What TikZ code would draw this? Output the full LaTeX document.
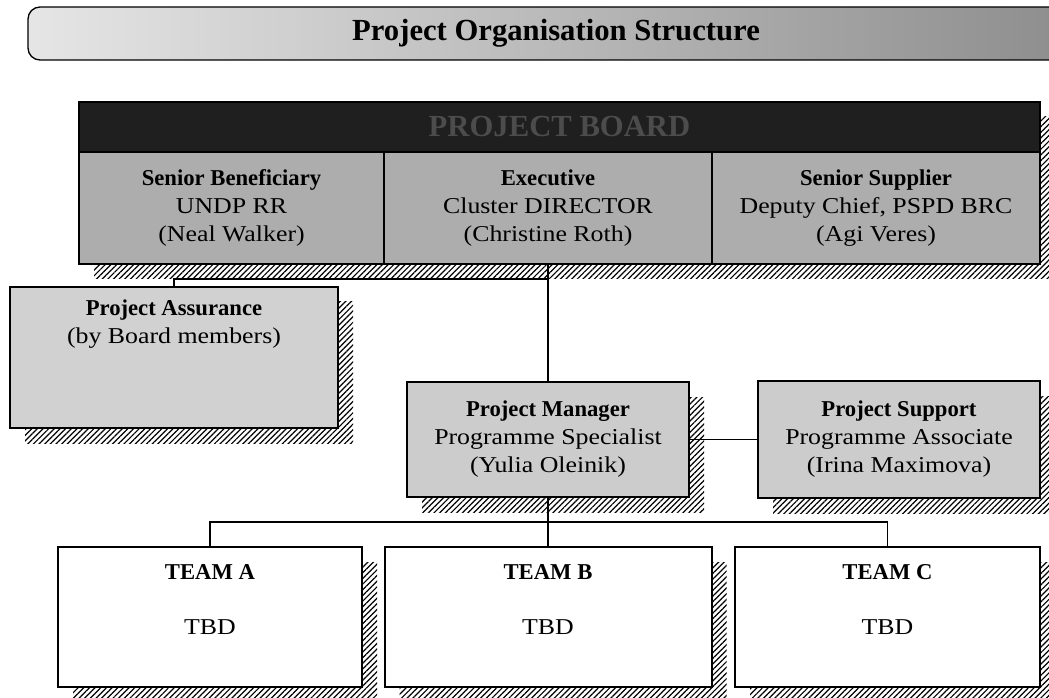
\documentclass[tikz,border=0pt]{standalone}
\usepackage{fontspec}
\setmainfont{Liberation Serif}[UprightFeatures={FakeStretch=1.14}]
\usetikzlibrary{calc,patterns.meta}

\begin{document}
\begin{tikzpicture}[x=0.75pt, y=-0.75pt,
  every node/.style={font=\fontsize{17}{21}\selectfont},
  box/.style={draw, line width=1.5pt, inner sep=0pt, align=center},
  hatched/.style={preaction={draw=none,
      pattern={Lines[angle=45, distance=3pt, line width=0.9pt]},
      transform canvas={shift={(11.25pt,-11.25pt)}}}},
  link/.style={line width=1.1pt}]
  % 1 Einheit = 1 Pixel (0.75pt), y nach unten
  \def\px{0.75pt}
  \useasboundingbox (0,0) rectangle (1049,698);

  % ---- Titelleiste ----
  \node[draw, line width=1pt, rounded corners=9pt, left color=black!10, right color=black!45,
        minimum width=1056*\px, minimum height=53*\px,
        font=\bfseries\fontsize{23}{27}\selectfont] (title) at (556,33.5) {Project Organisation Structure};

  % ---- Lenkungsausschuss ----
  \node[box, hatched, fill=black!32, minimum width=961*\px, minimum height=162*\px] (board) at (559.5,183) {};
  \node[box, fill=black!88, text=black!70, minimum width=961*\px, minimum height=50*\px,
        font=\bfseries\fontsize{23}{27}\selectfont] (head) at (559.5,127) {PROJECT BOARD};
  \node[box, fill=black!32, minimum width=305*\px, minimum height=112*\px] (sb) at (231.5,208)
    {\textbf{Senior Beneficiary}\\UNDP RR\\(Neal Walker)};
  \node[box, fill=black!32, minimum width=328*\px, minimum height=112*\px] (exe) at (548,208)
    {\textbf{Executive}\\Cluster DIRECTOR\\(Christine Roth)};
  \node[box, fill=black!32, minimum width=328*\px, minimum height=112*\px] (ss) at (876,208)
    {\textbf{Senior Supplier}\\Deputy Chief, PSPD BRC\\(Agi Veres)};

  % ---- Assurance ----
  \node[box, hatched, fill=black!18, minimum width=328*\px, minimum height=141*\px] (assure) at (174,357.5) {};
  \node[anchor=north, align=center, inner sep=0pt] (assuretxt) at ($(assure.north)+(0,14)$)
    {\textbf{Project Assurance}\\(by Board members)};

  % ---- Manager und Support ----
  \node[box, hatched, fill=black!20, minimum width=282*\px, minimum height=115*\px] (pm) at (548,439.5)
    {\textbf{Project Manager}\\Programme Specialist\\(Yulia Oleinik)};
  \node[box, hatched, fill=black!20, minimum width=282*\px, minimum height=117*\px] (ps) at (899,439.5)
    {\textbf{Project Support}\\Programme Associate\\(Irina Maximova)};

  % ---- Teams ----
  \node[box, hatched, fill=white, minimum width=304*\px, minimum height=140*\px] (teamA) at (210,617) {};
  \node[anchor=base] (nameA) at ($(teamA.north)+(0,33)$) {\textbf{TEAM A}};
  \node[anchor=base] (tbdA) at ($(teamA.north)+(0,88)$) {TBD};

  \node[box, hatched, fill=white, minimum width=327*\px, minimum height=140*\px] (teamB) at (548,617) {};
  \node[anchor=base] (nameB) at ($(teamB.north)+(0,33)$) {\textbf{TEAM B}};
  \node[anchor=base] (tbdB) at ($(teamB.north)+(0,88)$) {TBD};

  \node[box, hatched, fill=white, minimum width=305*\px, minimum height=140*\px] (teamC) at (887.5,617) {};
  \node[anchor=base] (nameC) at ($(teamC.north)+(0,33)$) {\textbf{TEAM C}};
  \node[anchor=base] (tbdC) at ($(teamC.north)+(0,88)$) {TBD};

  % ---- Verbindungen ----
  \coordinate (split) at (548,279);
  \coordinate (bus) at (548,522);
  \draw[link] (exe.south) -- (pm.north);
  \draw[link] (assure.north) |- (split);
  \draw[link] (pm.east) -- (ps.west);
  \draw[link] (pm.south) -- (teamB.north);
  \draw[link] (teamA.north) |- (bus) -| (teamC.north);
\end{tikzpicture}
\end{document}
